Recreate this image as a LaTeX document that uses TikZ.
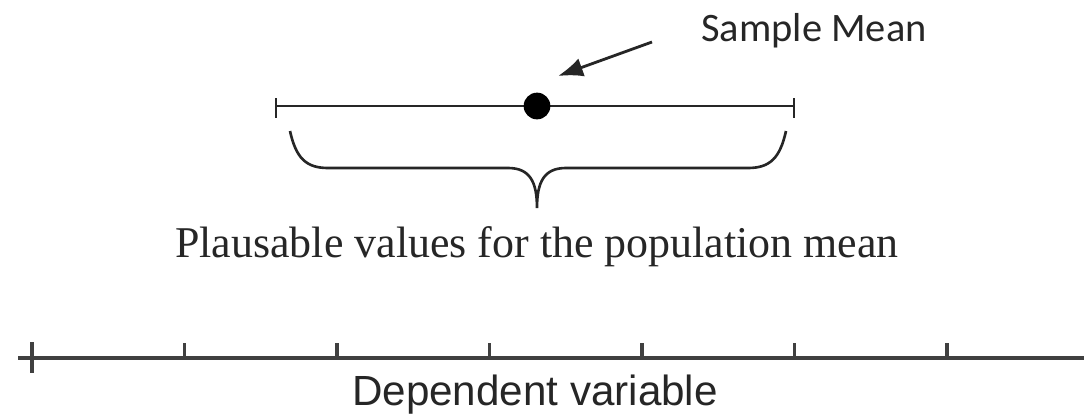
\documentclass[tikz,border=0pt]{standalone}
\usepackage{fontspec}
\setmainfont{Liberation Serif}
\newfontfamily\calfont{Carlito}
\newfontfamily\arialfont{Liberation Sans}
\usepackage{tikz}
\usetikzlibrary{arrows.meta,positioning}
\tikzset{
  ln/.style     = {draw=black!85, line width=0.75pt},
  axisln/.style = {draw=black!75, line width=0.9pt},
  dot/.style    = {circle, fill=black, inner sep=0pt, minimum size=7.6pt},
  meanlbl/.style = {font=\calfont\fontsize{11.5}{14}\selectfont, text=black!85},
  rangelbl/.style = {font=\fontsize{12.5}{15}\selectfont, text=black!85},
  axislbl/.style = {font=\arialfont\fontsize{12}{14}\selectfont, text=black!85},
  ar/.style     = {-{Latex[length=2.5mm,width=1.9mm]}, line width=0.8pt, draw=black!85}
}
\begin{document}
\begin{tikzpicture}[x=0.1mm, y=-0.1mm]
    \useasboundingbox (0,0) rectangle (1084,418);

    % ---- Interval ----
    \coordinate (lo) at (276,106);
    \coordinate (hi) at (794,106);
    \draw[ln] (lo) -- (hi);
    \draw[ln] ([yshift=0.8mm]lo) -- ([yshift=-1.2mm]lo);
    \draw[ln] ([yshift=0.8mm]hi) -- ([yshift=-1.2mm]hi);
    \node[dot] (mean) at (537,106) {};

    % ---- Sample mean label ----
    \node[meanlbl] (smlbl) at (814,31) {Sample Mean};
    \coordinate (arrtail) at (652,42);
    \coordinate (arrtip) at (558,76);
    \draw[ar] (arrtail) -- (arrtip);

    % ---- Brace ----
    \coordinate (brl) at (290,131);
    \coordinate (brr) at (786,131);
    \coordinate (brtip) at (537,208);
    \draw[ln] (brl) .. controls (296,158) and (306,168) .. (328,168)
              -- (508,168) .. controls (530,168) and (537,182) .. (brtip)
              .. controls (537,182) and (544,168) .. (566,168)
              -- (748,168) .. controls (770,168) and (780,158) .. (brr);
    \node[rangelbl] (plaus) at (537,247) {Plausable values for the population mean};

    % ---- Axis ----
    \coordinate (axl) at (18,358);
    \coordinate (axr) at (1084,358);
    \draw[axisln] (axl) -- (axr);
    \draw[axisln] (32,342) -- (32,373);
    \foreach \x in {184.5,337,489.5,642,794.5,947}
      \draw[axisln] (\x,343) -- (\x,358);
    \node[axislbl] (dep) at (535,395) {Dependent variable};
\end{tikzpicture}
\end{document}
